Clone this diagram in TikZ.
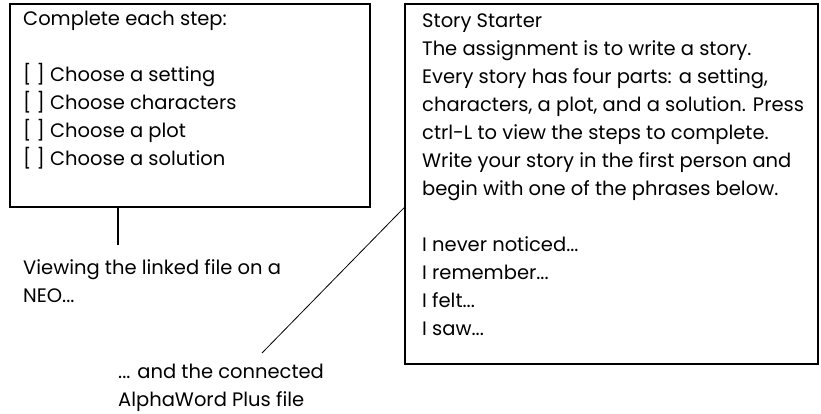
\documentclass[tikz,border=0pt]{standalone}
\usepackage{fontspec}
\setmainfont{Poppins}
\usetikzlibrary{positioning}

\begin{document}
\begin{tikzpicture}[x=1pt,y=-1pt,
  panel/.style={draw,line width=2.4pt,inner sep=0pt},
  panetext/.style={font=\fontsize{19.5}{28}\selectfont,align=left,anchor=north west,inner sep=0pt},
  leader/.style={line width=0.8pt}]
\useasboundingbox (0,0) rectangle (821,414);
% --- Steps on the NEO (left) ---
\node[panel,minimum width=360pt,minimum height=203pt] (stepsbox) at (190,105.5) {};
\node[panetext] (stepstext) at (23,11) {Complete each step:\\ \\
{[ ]} Choose a setting\\
{[ ]} Choose characters\\
{[ ]} Choose a plot\\
{[ ]} Choose a solution};
\node[panetext] (neolabel) at (23,259) {Viewing the linked file on a\\ NEO...};
\coordinate (neotip) at (118,245);
\draw[line width=2pt] (stepsbox.south -| neotip) -- (neotip);

% --- AlphaWord Plus file (right) ---
\node[panel,minimum width=413pt,minimum height=360pt] (starterbox) at (611.5,184) {};
\node[panetext] (startertext) at (422,14) {Story Starter\\
The assignment is to write a story.\\
Every story has four parts: a setting,\\
characters, a plot, and a solution. Press\\
ctrl-L to view the steps to complete.\\
Write your story in the first person and\\
begin with one of the phrases below.\\ \\
I never noticed...\\
I remember...\\
I felt...\\
I saw...};
\node[panetext] (awlabel) at (118,364) {... and the connected\\ AlphaWord Plus file};
\coordinate (starterhook) at (starterbox.west |- 0,208);
\coordinate (awtip) at (262,353);
\draw[leader] (starterhook) -- (awtip);
\end{tikzpicture}
\end{document}
